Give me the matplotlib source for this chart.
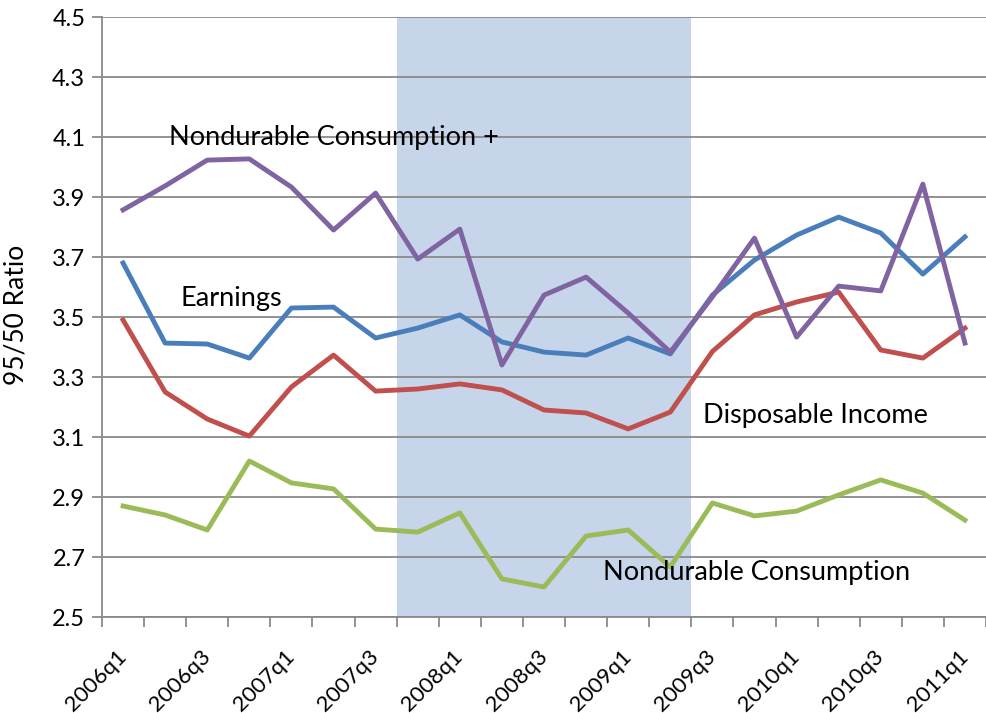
import numpy as np
import matplotlib
matplotlib.use("Agg")
import matplotlib.pyplot as plt
from matplotlib.transforms import ScaledTranslation

plt.rcParams['font.family'] = ['Lato', 'DejaVu Sans']

quarters = ['2006q1', '2006q2', '2006q3', '2006q4', '2007q1', '2007q2', '2007q3',
            '2007q4', '2008q1', '2008q2', '2008q3', '2008q4', '2009q1', '2009q2',
            '2009q3', '2009q4', '2010q1', '2010q2', '2010q3', '2010q4', '2011q1']

earnings = [3.68, 3.413, 3.41, 3.363, 3.53, 3.533, 3.43, 3.463, 3.507, 3.417, 3.383,
            3.373, 3.43, 3.377, 3.573, 3.69, 3.773, 3.833, 3.78, 3.643, 3.767]
disp_income = [3.49, 3.25, 3.16, 3.103, 3.267, 3.373, 3.253, 3.26, 3.277, 3.257, 3.19,
               3.18, 3.127, 3.183, 3.385, 3.507, 3.55, 3.583, 3.39, 3.363, 3.463]
nondur = [2.87, 2.84, 2.79, 3.02, 2.947, 2.927, 2.793, 2.783, 2.847, 2.627, 2.60,
          2.77, 2.79, 2.667, 2.88, 2.837, 2.853, 2.907, 2.957, 2.913, 2.823]
nondur_plus = [3.857, 3.937, 4.023, 4.027, 3.933, 3.79, 3.913, 3.693, 3.793, 3.34, 3.573,
               3.633, 3.513, 3.383, 3.567, 3.763, 3.433, 3.603, 3.587, 3.943, 3.413]

recession = ('2007q4', '2009q2')

x = np.arange(len(quarters))

fig = plt.figure(figsize=(9.86, 7.13), dpi=100)
ax = fig.add_axes([102/986, 1 - 617/713, 1 - 102/986, (617 - 17)/713])

# recession shading
r0 = quarters.index(recession[0]) - 0.5
r1 = quarters.index(recession[1]) + 0.5
ax.axvspan(r0, r1, color='#c6d5ea', zorder=0, lw=0)

for yv in np.arange(2.5, 4.51, 0.2):
    ax.axhline(yv, color='#8a8a8a', lw=1.3, zorder=1)

lw = 3.5
ax.plot(x, nondur, color='#9bbb59', lw=lw, zorder=3)
ax.plot(x, disp_income, color='#c0504d', lw=lw, zorder=3)
ax.plot(x, earnings, color='#4a7ebb', lw=lw, zorder=3)
ax.plot(x, nondur_plus, color='#8064a2', lw=lw, zorder=4)

ax.set_xlim(-0.5, 20.32)
ax.set_ylim(2.5, 4.5)
ax.set_yticks(np.arange(2.5, 4.51, 0.2))
ax.set_yticklabels(['%.1f' % v for v in np.arange(2.5, 4.51, 0.2)], fontsize=17)
ax.set_xticks(x[::2])
ax.set_xticklabels(quarters[::2], rotation=45, ha='right', va='center',
                   rotation_mode='anchor', fontsize=16)
for lab in ax.get_xticklabels():
    lab.set_transform(lab.get_transform() + ScaledTranslation(0.02, 0, fig.dpi_scale_trans))
ax.set_xticks(np.arange(-0.5, 21, 1), minor=True)
ax.tick_params(axis='x', which='major', length=0, pad=26)
ax.tick_params(axis='x', which='minor', length=7, color='#8a8a8a', width=1.3)
ax.tick_params(axis='y', length=7, color='#8a8a8a', width=1.3, pad=5)

for s in ['top', 'right']:
    ax.spines[s].set_visible(False)
for s in ['left', 'bottom']:
    ax.spines[s].set_color('#8a8a8a')
    ax.spines[s].set_linewidth(1.3)
    ax.spines[s].set_zorder(2)

ax.set_ylabel('95/50 Ratio', fontsize=19)
ax.yaxis.set_label_coords(-(102 - 29) / 884, 0.503)

ax.text(1.1, 4.1, 'Nondurable Consumption +', fontsize=19.5, va='center', zorder=5)
ax.text(1.37, 3.563, 'Earnings', fontsize=19.5, va='center', zorder=5)
ax.text(13.77, 3.173, 'Disposable Income', fontsize=19.5, va='center', zorder=5)
ax.text(11.4, 2.65, 'Nondurable Consumption', fontsize=19.5, va='center', zorder=5)

fig.savefig('out.png', dpi=100)
